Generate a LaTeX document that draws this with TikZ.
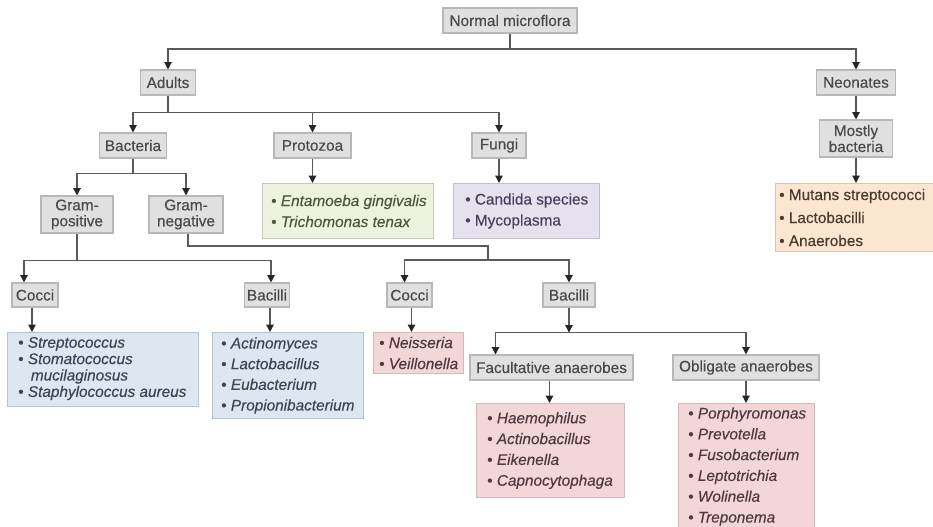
\documentclass[tikz,border=0pt]{standalone}
\usepackage{fontspec}
\setmainfont{Liberation Sans}[FakeBold=0.35]
\usetikzlibrary{arrows.meta,calc}
\definecolor{boxfill}{HTML}{E0E0E0}
\definecolor{boxline}{HTML}{B8B8B8}
\definecolor{boxtext}{HTML}{4A4A4A}
\definecolor{linecol}{HTML}{5A5A5A}
\definecolor{grnfill}{HTML}{EEF3E0}
\definecolor{grnline}{HTML}{C6CCB6}
\definecolor{grntext}{HTML}{4C5A3C}
\definecolor{purfill}{HTML}{E5E1EE}
\definecolor{purline}{HTML}{C2BECD}
\definecolor{purtext}{HTML}{4A3F5C}
\definecolor{orafill}{HTML}{FDE6D0}
\definecolor{oraline}{HTML}{D8C6B5}
\definecolor{oratext}{HTML}{4A3A30}
\definecolor{blufill}{HTML}{DCE7F2}
\definecolor{bluline}{HTML}{B8C4D0}
\definecolor{blutext}{HTML}{3E4456}
\definecolor{pnkfill}{HTML}{F3D7D8}
\definecolor{pnkline}{HTML}{D4B9BA}
\definecolor{pnktext}{HTML}{4E3A40}
\begin{document}
\begin{tikzpicture}[x=0.75pt,y=-0.75pt,
  gbox/.style={draw=boxline, fill=boxfill, line width=0.8pt, inner sep=0pt,
    text=boxtext, font=\fontsize{11.5}{12}\selectfont, align=center, minimum height=18.75pt},
  lbox/.style={line width=0.8pt, anchor=north west, inner sep=0pt},
  ltext/.style={anchor=west, align=left, inner sep=0pt},
  conn/.style={draw=linecol, line width=0.9pt},
  arr/.style={conn, -{Triangle[width=5.5pt,length=5.5pt,color=black!85]}}]
\useasboundingbox (0,0) rectangle (933,526);
\fill[white] (0,0) rectangle (933,526);

% gray label boxes
\node[gbox, minimum width=100.5pt] (nm) at (510,20.5) {Normal microflora};
\node[gbox, minimum width=41.25pt] (adults) at (168,82.5) {Adults};
\node[gbox, minimum width=59.25pt] (neonates) at (856,82.5) {Neonates};
\node[gbox, minimum width=50.25pt] (bacteria) at (133,145.5) {Bacteria};
\node[gbox, minimum width=57.75pt] (protozoa) at (312.5,145.5) {Protozoa};
\node[gbox, minimum width=40.5pt] (fungi) at (499,145.5) {Fungi};
\node[gbox, minimum width=54.75pt, minimum height=27.75pt] (mostly) at (856,138.5) {Mostly\\bacteria};
\node[gbox, minimum width=54pt, minimum height=27.75pt] (gpos) at (77,214.5) {Gram-\\positive};
\node[gbox, minimum width=55.5pt, minimum height=27.75pt] (gneg) at (186,214.5) {Gram-\\negative};
\node[gbox, minimum width=34.5pt, minimum height=18pt] (cocciA) at (35,295) {Cocci};
\node[gbox, minimum width=34pt, minimum height=18pt] (bacA) at (267,295) {Bacilli};
\node[gbox, minimum width=33.75pt, minimum height=18pt] (cocciB) at (409.5,295) {Cocci};
\node[gbox, minimum width=39pt, minimum height=18pt] (bacB) at (569,295) {Bacilli};
\node[gbox, minimum width=122.25pt] (fac) at (551.5,367.5) {Facultative anaerobes};
\node[gbox, minimum width=109.5pt] (obl) at (746,367.5) {Obligate anaerobes};

% coloured list boxes
\node[lbox, draw=grnline, fill=grnfill, minimum width=128.25pt, minimum height=41.25pt] (protolist) at (262,183) {};
\node[ltext, text=grntext, font=\fontsize{11.5}{15.75}\selectfont] (protolistT) at ($(protolist.west)+(9,0)$)
  {\textbullet\ \textit{Entamoeba gingivalis}\\\textbullet\ \textit{Trichomonas tenax}};

\node[lbox, draw=purline, fill=purfill, minimum width=109.5pt, minimum height=41.25pt] (fungilist) at (453,183) {};
\node[ltext, text=purtext, font=\fontsize{11.5}{15.75}\selectfont] (fungilistT) at ($(fungilist.west)+(12,0)$)
  {\textbullet\ Candida species\\\textbullet\ Mycoplasma};

\node[lbox, draw=oraline, fill=orafill, minimum width=118.5pt, minimum height=51pt] (orange) at (775,183) {};
\node[ltext, text=oratext, font=\fontsize{11.5}{17.25}\selectfont] (orangeT) at ($(orange.west)+(4,0)$)
  {\textbullet\ Mutans streptococci\\\textbullet\ Lactobacilli\\\textbullet\ Anaerobes};

\node[lbox, draw=bluline, fill=blufill, minimum width=143.25pt, minimum height=55.5pt] (blueA) at (7,332) {};
\node[ltext, text=blutext, font=\fontsize{11.5}{12.3}\selectfont] (blueAT) at ($(blueA.west)+(11,-1)$)
  {\textbullet\ \textit{Streptococcus}\\\textbullet\ \textit{Stomatococcus}\\
   \hspace*{9.5pt}\textit{mucilaginosus}\\\textbullet\ \textit{Staphylococcus aureus}};

\node[lbox, draw=bluline, fill=blufill, minimum width=113.25pt, minimum height=64.5pt] (blueB) at (212,332) {};
\node[ltext, text=blutext, font=\fontsize{11.5}{15.5}\selectfont] (blueBT) at ($(blueB.west)+(9,0)$)
  {\textbullet\ \textit{Actinomyces}\\\textbullet\ \textit{Lactobacillus}\\
   \textbullet\ \textit{Eubacterium}\\\textbullet\ \textit{Propionibacterium}};

\node[lbox, draw=pnkline, fill=pnkfill, minimum width=67.5pt, minimum height=30.75pt] (pinkA) at (373,332) {};
\node[ltext, text=pnktext, font=\fontsize{11.5}{15.75}\selectfont] (pinkAT) at ($(pinkA.west)+(6,0)$)
  {\textbullet\ \textit{Neisseria}\\\textbullet\ \textit{Veillonella}};

\node[lbox, draw=pnkline, fill=pnkfill, minimum width=111pt, minimum height=70.5pt] (facl) at (476,403) {};
\node[ltext, text=pnktext, font=\fontsize{11.5}{15.6}\selectfont] (faclT) at ($(facl.west)+(11,0)$)
  {\textbullet\ \textit{Haemophilus}\\\textbullet\ \textit{Actinobacillus}\\
   \textbullet\ \textit{Eikenella}\\\textbullet\ \textit{Capnocytophaga}};

\node[lbox, draw=pnkline, fill=pnkfill, minimum width=102pt, minimum height=94.5pt] (obll) at (678,403) {};
\node[ltext, text=pnktext, font=\fontsize{11.5}{15.6}\selectfont] (obllT) at ($(obll.west)+(10,0)$)
  {\textbullet\ \textit{Porphyromonas}\\\textbullet\ \textit{Prevotella}\\
   \textbullet\ \textit{Fusobacterium}\\\textbullet\ \textit{Leptotrichia}\\
   \textbullet\ \textit{Wolinella}\\\textbullet\ \textit{Treponema}};

% connectors
\draw[conn] (nm.south) -- ++(0,15.5) coordinate (j1);
\draw[arr] (j1) -| (adults.north);
\draw[arr] (j1) -| (neonates.north);
\draw[arr] (neonates.south) -- (mostly.north);
\draw[arr] (mostly.south) -- (mostly.south |- orange.north);

\draw[conn] (adults.south) -- ++(0,17) coordinate (j2);
\draw[arr] (j2) -| (bacteria.north);
\draw[arr] (j2) -| (protozoa.north);
\draw[arr] (j2) -| (fungi.north);
\draw[arr] (protozoa.south) -- (protozoa.south |- protolist.north);
\draw[arr] (fungi.south) -- (fungi.south |- fungilist.north);

\draw[conn] (bacteria.south) -- ++(0,15) coordinate (j3);
\draw[arr] (j3) -| (gpos.north);
\draw[arr] (j3) -| (gneg.north);

\draw[conn] (gpos.south) -- ++(0,27) coordinate (j4);
\draw[arr] (j4) -| ($(cocciA.north)+(-11,0)$);
\draw[arr] (j4) -| ($(bacA.north)+(4,0)$);

\coordinate (j6) at (488,246);
\draw[conn] ($(gneg.south)+(2,0)$) |- (j6) -- ++(0,14) coordinate (j7);
\draw[arr] (j7) -| ($(cocciB.north)+(-5,0)$);
\draw[arr] (j7) -| (bacB.north);

\draw[arr] ($(cocciA.south)+(-3,0)$) -- ($(cocciA.south |- blueA.north)+(-3,0)$);
\draw[arr] ($(bacA.south)+(3,0)$) -- ($(bacA.south |- blueB.north)+(3,0)$);
\draw[arr] ($(cocciB.south)+(2,0)$) -- ($(cocciB.south |- pinkA.north)+(2,0)$);

\draw[arr] (bacB.south) -- ++(0,25) coordinate (j8);
\draw[arr] (j8) -| ($(fac.north)+(-56,0)$);
\draw[arr] (j8) -| (obl.north);
\draw[arr] ($(fac.south)+(-2,0)$) -- ($(fac.south |- facl.north)+(-2,0)$);
\draw[arr] (obl.south) -- (obl.south |- obll.north);
\end{tikzpicture}
\end{document}
